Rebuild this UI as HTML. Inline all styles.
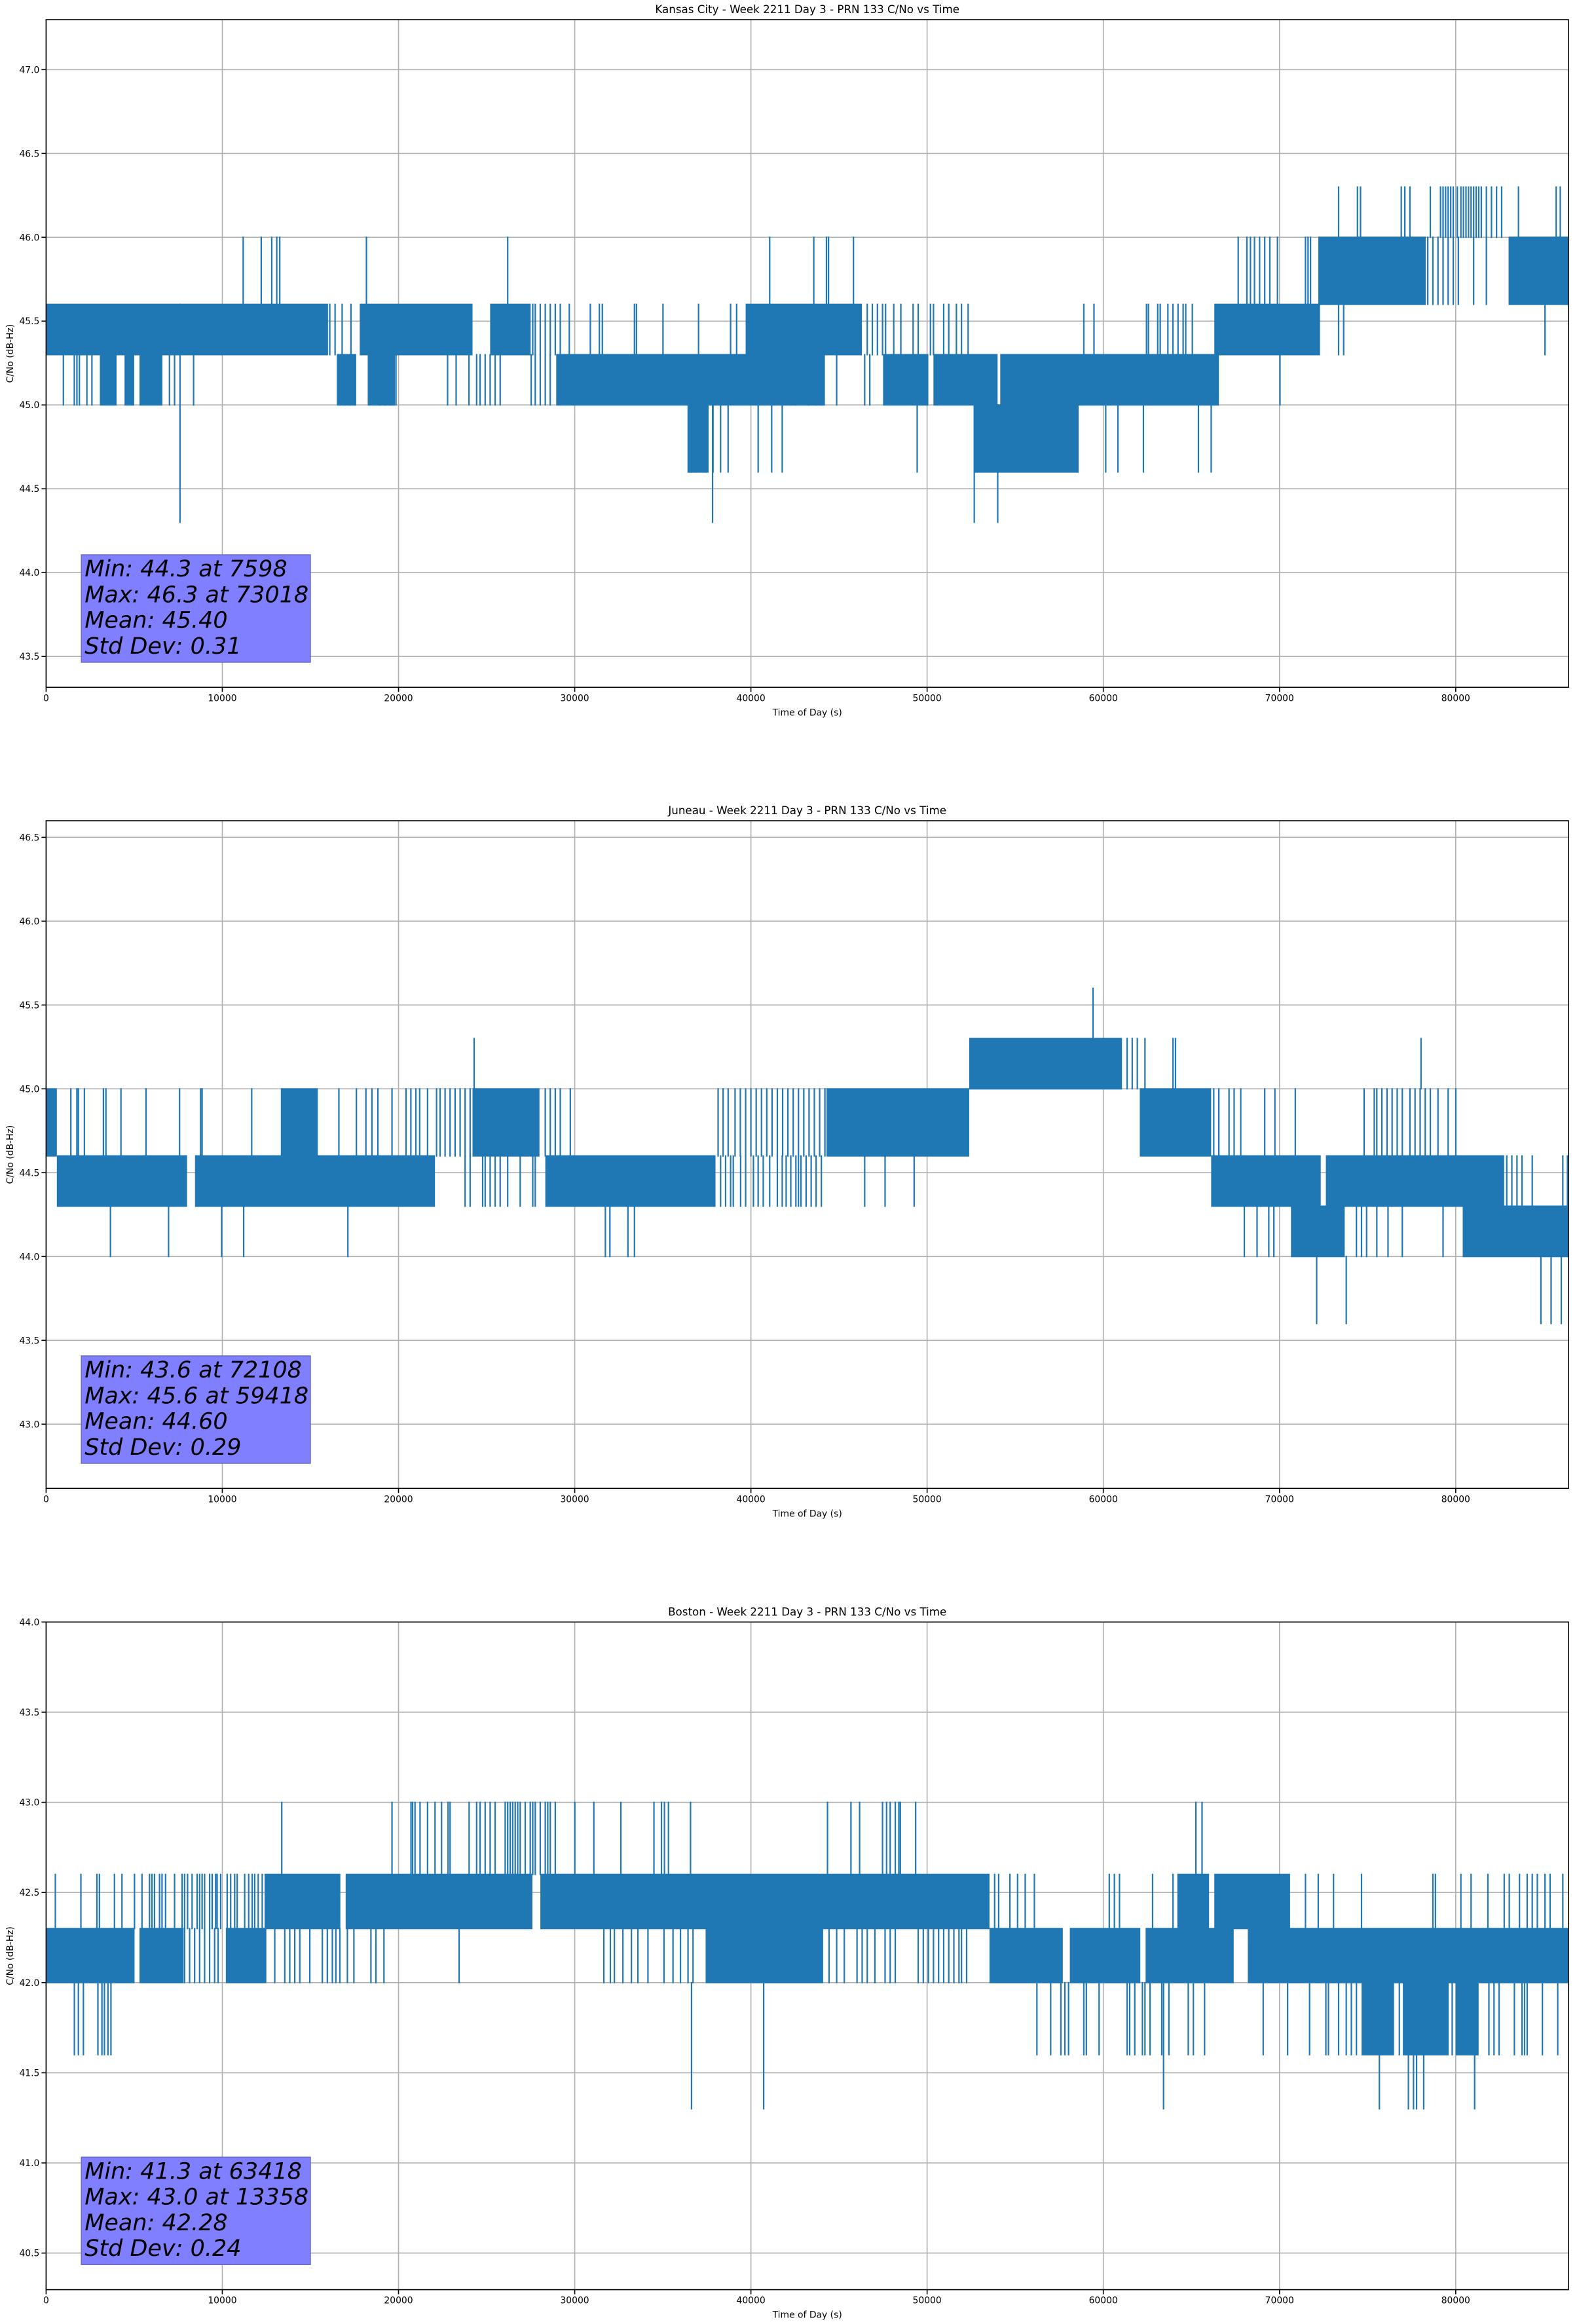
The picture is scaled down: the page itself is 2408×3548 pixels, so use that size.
<!DOCTYPE html>
<html><head><meta charset="utf-8">
<style>
html,body{margin:0;padding:0;background:#fff;}
svg{display:block;font-family:"DejaVu Sans","Liberation Sans",sans-serif;}
</style></head>
<body>
<svg id="fig" width="2408" height="3548" viewBox="0 0 2408 3548" xmlns="http://www.w3.org/2000/svg"></svg>
<script>
// ---------- DATA ----------
const xTicks = [0,10000,20000,30000,40000,50000,60000,70000,80000];
const kcTitle = "Kansas City - Week 2211 Day 3 - PRN 133 C/No vs Time";
const kcYTicks = [43.5,44.0,44.5,45.0,45.5,46.0,46.5,47.0];
const kcStats = ["Min: 44.3 at 7598","Max: 46.3 at 73018","Mean: 45.40","Std Dev: 0.31"];
const kcBands = [
 [0,16000,45.3,45.6],[17800,24200,45.3,45.6],[25200,27500,45.3,45.6],[39700,46300,45.3,45.6],[66300,72300,45.3,45.6],
 [3050,4000,45.0,45.3],[4450,5000,45.0,45.3],[5300,6600,45.0,45.3],[16500,17600,45.0,45.3],[18300,19800,45.0,45.3],
 [28950,44200,45.0,45.3],[47500,50070,45.0,45.3],[50360,54000,45.0,45.3],[54150,66560,45.0,45.3],
 [36400,37600,44.6,45.0],[52680,58600,44.6,45.0],
 [72200,78300,45.6,46.0],[83000,86400,45.6,46.0]
];
const kcLines = [
 [979,45.0,45.3],[1600,45.0,45.3],[1750,45.0,45.3],[1890,45.0,45.3],[2315,45.0,45.3],[2600,45.0,45.3],[7000,45.0,45.3],[7290,45.0,45.3],
 [7598,44.3,45.6],[8370,45.0,45.3],[16672,45.0,45.3],[16956,45.0,45.3],[17241,45.0,45.3],[17525,45.0,45.3],[18293,45.0,45.3],
 [18946,45.0,45.3],[19231,45.0,45.3],[19515,45.0,45.3],[19856,45.0,45.3],[22785,45.0,45.3],[23270,45.0,45.3],[24000,45.0,45.3],
 [24434,45.0,45.3],[24632,45.0,45.3],[24917,45.0,45.3],[25201,45.0,45.3],[25485,45.0,45.3],[25770,45.0,45.3],
 [27530,45.0,45.3],[27760,45.0,45.3],[28044,45.0,45.3],[28329,45.0,45.3],[28610,45.0,45.3],
 [16100,45.3,45.6],[16400,45.3,45.6],[16800,45.3,45.6],[17300,45.3,45.6],
 [27618,45.3,45.6],[27760,45.3,45.6],[28044,45.3,45.6],[28329,45.3,45.6],[28613,45.3,45.6],[28897,45.3,45.6],[29181,45.3,45.6],
 [29693,45.3,45.6],[30887,45.3,45.6],[31399,45.3,45.6],[31569,45.3,45.6],[33389,45.3,45.6],[33503,45.3,45.6],[35010,45.3,45.6],
 [37028,45.3,45.6],[38847,45.3,45.6],[39189,45.3,45.6],
 [11185,45.6,46.0],[12209,45.6,46.0],[12806,45.6,46.0],[13090,45.6,46.0],[13261,45.6,46.0],[18179,45.6,46.0],[26197,45.6,46.0],
 [41066,45.6,46.0],[43568,45.6,46.0],[44289,45.6,46.0],[44404,45.6,46.0],[45821,45.6,46.0],
 [46602,45.3,45.6],[46892,45.3,45.6],[47180,45.3,45.6],[47470,45.3,45.6],[47643,45.3,45.6],[48106,45.3,45.6],[48510,45.3,45.6],
 [49205,45.3,45.6],[49494,45.3,45.6],[50188,45.3,45.6],[50362,45.3,45.6],[50940,45.3,45.6],[51229,45.3,45.6],[51663,45.3,45.6],
 [51952,45.3,45.6],[52328,45.3,45.6],[58893,45.3,45.6],[59471,45.3,45.6],[62450,45.3,45.6],[62560,45.3,45.6],[63087,45.3,45.6],
 [63230,45.3,45.6],[63665,45.3,45.6],[63950,45.3,45.6],[64240,45.3,45.6],[64530,45.3,45.6],[64677,45.3,45.6],[65053,45.3,45.6],
 [67656,45.6,46.0],[68147,45.6,46.0],[68350,45.6,46.0],[68580,45.6,46.0],[68870,45.6,46.0],[69160,45.6,46.0],[69450,45.6,46.0],
 [69883,45.6,46.0],[71473,45.6,46.0],[71620,45.6,46.0],[71760,45.6,46.0],
 [70028,45.0,45.3],[73353,45.3,45.6],[73640,45.3,45.6],[85066,45.3,45.6],
 [78414,45.6,46.0],[78704,45.6,46.0],[78993,45.6,46.0],[79282,45.6,46.0],[79571,45.6,46.0],[79860,45.6,46.0],[80149,45.6,46.0],
 [81017,45.6,46.0],[81740,45.6,46.0],
 [73353,46.0,46.3],[74423,46.0,46.3],[74597,46.0,46.3],[76910,46.0,46.3],[77113,46.0,46.3],[77402,46.0,46.3],[78559,46.0,46.3],
 [79137,46.0,46.3],[79282,46.0,46.3],[79426,46.0,46.3],[79571,46.0,46.3],[79716,46.0,46.3],[79860,46.0,46.3],[80091,46.0,46.3],
 [80294,46.0,46.3],[80438,46.0,46.3],[80583,46.0,46.3],[80728,46.0,46.3],[80872,46.0,46.3],[81017,46.0,46.3],[81162,46.0,46.3],
 [81306,46.0,46.3],[81451,46.0,46.3],[81740,46.0,46.3],[82029,46.0,46.3],[82318,46.0,46.3],[82607,46.0,46.3],[83562,46.0,46.3],
 [85702,46.0,46.3],[85934,46.0,46.3],
 [36573,44.6,45.0],[36860,44.6,45.0],[37426,44.6,45.0],[37850,44.6,45.0],[38279,44.6,45.0],[38705,44.6,45.0],[40411,44.6,45.0],
 [41180,44.6,45.0],[41777,44.6,45.0],[49436,44.6,45.0],[60137,44.6,45.0],[60831,44.6,45.0],[62277,44.6,45.0],[65400,44.6,45.0],
 [66123,44.6,45.0],[37824,44.3,45.0],[52675,44.3,45.0],[54006,44.3,45.0],
 [42264,45.0,45.3],[42550,45.0,45.3],[43276,45.0,45.3],[43710,45.0,45.3],[44000,45.0,45.3],[44867,45.0,45.3],[46457,45.0,45.3],[46747,45.0,45.3]
];

const juTitle = "Juneau - Week 2211 Day 3 - PRN 133 C/No vs Time";
const juYTicks = [43.0,43.5,44.0,44.5,45.0,45.5,46.0,46.5];
const juStats = ["Min: 43.6 at 72108","Max: 45.6 at 59418","Mean: 44.60","Std Dev: 0.29"];
const juBands = [
 [610,8000,44.3,44.6],[8450,22070,44.3,44.6],[28330,37990,44.3,44.6],[66120,72340,44.3,44.6],[72630,82750,44.3,44.6],
 [0,610,44.6,45.0],[13320,15420,44.6,45.0],[24200,28000,44.6,45.0],[44290,52390,44.6,45.0],[62070,66120,44.6,45.0],
 [52390,61060,45.0,45.3],
 [70650,73700,44.0,44.3],[80450,86400,44.0,44.3]
];
const juLines = [
 [1405,44.6,45.0],[1746,44.6,45.0],[1832,44.6,45.0],[2173,44.6,45.0],[3253,44.6,45.0],[3395,44.6,45.0],[4248,44.6,45.0],[5670,44.6,45.0],
 [7574,44.6,45.0],[8768,44.6,45.0],[8854,44.6,45.0],[11668,44.6,45.0],[16615,44.6,45.0],[17610,44.6,45.0],[18150,44.6,45.0],
 [18491,44.6,45.0],[18832,44.6,45.0],[19630,44.6,45.0],[20425,44.6,45.0],[20700,44.6,45.0],[20985,44.6,45.0],[21200,44.6,45.0],
 [21647,44.6,45.0],[22159,44.6,45.0],[22359,44.6,45.0],[22643,44.6,45.0],[22927,44.6,45.0],[23211,44.6,45.0],[23496,44.6,45.0],
 [23780,44.6,45.0],[24064,44.6,45.0],[28329,44.6,45.0],[28613,44.6,45.0],[28897,44.6,45.0],[29181,44.6,45.0],[29750,44.6,45.0],
 [38138,44.6,45.0],[38422,44.6,45.0],[38707,44.6,45.0],[39100,44.6,45.0],[39400,44.6,45.0],[39700,44.6,45.0],[40000,44.6,45.0],
 [40300,44.6,45.0],[40600,44.6,45.0],[40900,44.6,45.0],[41200,44.6,45.0],[41500,44.6,45.0],[41800,44.6,45.0],[42100,44.6,45.0],
 [42400,44.6,45.0],[42700,44.6,45.0],[43000,44.6,45.0],[43300,44.6,45.0],[43600,44.6,45.0],[43900,44.6,45.0],[44200,44.6,45.0],
 [66268,44.6,45.0],[66557,44.6,45.0],[67135,44.6,45.0],[67424,44.6,45.0],[67800,44.6,45.0],[69160,44.6,45.0],[69738,44.6,45.0],
 [70895,44.6,45.0],[74800,44.6,45.0],[75378,44.6,45.0],[75522,44.6,45.0],[75811,44.6,45.0],[76100,44.6,45.0],[76390,44.6,45.0],
 [76679,44.6,45.0],[76968,44.6,45.0],[77402,44.6,45.0],[77691,44.6,45.0],[77980,44.6,45.0],[78270,44.6,45.0],[78559,44.6,45.0],
 [78993,44.6,45.0],[79571,44.6,45.0],[80005,44.6,45.0],
 [24290,45.0,45.3],[78030,45.0,45.3],[61351,45.0,45.3],[61640,45.0,45.3],[61930,45.0,45.3],[62364,45.0,45.3],[63954,45.0,45.3],[64098,45.0,45.3],
 [59418,45.3,45.6],
 [23780,44.3,44.6],[24064,44.3,44.6],[24775,44.3,44.6],[24917,44.3,44.6],[25201,44.3,44.6],[25485,44.3,44.6],[25770,44.3,44.6],
 [26196,44.3,44.6],[26907,44.3,44.6],[27618,44.3,44.6],[27760,44.3,44.6],
 [38279,44.3,44.6],[38563,44.3,44.6],[38848,44.3,44.6],[39000,44.3,44.6],[39416,44.3,44.6],[39700,44.3,44.6],[40143,44.3,44.6],
 [40411,44.3,44.6],[40700,44.3,44.6],[41066,44.3,44.6],[41500,44.3,44.6],[41777,44.3,44.6],[42000,44.3,44.6],[42264,44.3,44.6],
 [42553,44.3,44.6],[42700,44.3,44.6],[42842,44.3,44.6],[43131,44.3,44.6],[43420,44.3,44.6],[43700,44.3,44.6],[43999,44.3,44.6],
 [46457,44.3,44.6],[47614,44.3,44.6],[49263,44.3,44.6],[82897,44.3,44.6],[83186,44.3,44.6],[83476,44.3,44.6],[83765,44.3,44.6],
 [84344,44.3,44.6],[86078,44.3,44.6],[86340,44.3,44.6],
 [3651,44.0,44.3],[6949,44.0,44.3],[9963,44.0,44.3],[11213,44.0,44.3],[17127,44.0,44.3],[31740,44.0,44.3],[31997,44.0,44.3],
 [33020,44.0,44.3],[33390,44.0,44.3],[68003,44.0,44.3],[68726,44.0,44.3],[69391,44.0,44.3],[69680,44.0,44.3],[74366,44.0,44.3],
 [74655,44.0,44.3],[74944,44.0,44.3],[75522,44.0,44.3],[76158,44.0,44.3],[76968,44.0,44.3],[79282,44.0,44.3],[80438,44.0,44.3],
 [72108,43.6,44.0],[73787,43.6,44.0],[84835,43.6,44.0],[85413,43.6,44.0],[85991,43.6,44.0]
];

const boTitle = "Boston - Week 2211 Day 3 - PRN 133 C/No vs Time";
const boYTicks = [40.5,41.0,41.5,42.0,42.5,43.0,43.5,44.0];
const boStats = ["Min: 41.3 at 63418","Max: 43.0 at 13358","Mean: 42.28","Std Dev: 0.24"];
const boBands = [
 [0,5020,42.0,42.3],[5300,7800,42.0,42.3],[10200,12500,42.0,42.3],[37430,44100,42.0,42.3],
 [53540,57700,42.0,42.3],[58100,62100,42.0,42.3],[62400,67400,42.0,42.3],[68200,86400,42.0,42.3],
 [12400,16700,42.3,42.6],[17000,27600,42.3,42.6],[28050,53540,42.3,42.6],[64200,66000,42.3,42.6],[66300,70600,42.3,42.6],
 [74655,76500,41.6,42.0],[77000,79600,41.6,42.0],[80000,81300,41.6,42.0]
];
const boLines = [
 [13374,42.6,43.0],[19630,42.6,43.0],[20710,42.6,43.0],[20800,42.6,43.0],[20937,42.6,43.0],[21222,42.6,43.0],[21647,42.6,43.0],
 [22073,42.6,43.0],[22443,42.6,43.0],[22813,42.6,43.0],[22927,42.6,43.0],[24007,42.6,43.0],[24434,42.6,43.0],[24632,42.6,43.0],
 [24917,42.6,43.0],[25201,42.6,43.0],[25485,42.6,43.0],[26055,42.6,43.0],[26197,42.6,43.0],[26339,42.6,43.0],[26480,42.6,43.0],
 [26623,42.6,43.0],[26765,42.6,43.0],[26907,42.6,43.0],[27192,42.6,43.0],[27476,42.6,43.0],[27618,42.6,43.0],[27760,42.6,43.0],
 [28044,42.6,43.0],[28329,42.6,43.0],[28471,42.6,43.0],[28613,42.6,43.0],[28897,42.6,43.0],[30006,42.6,43.0],[31086,42.6,43.0],
 [32621,42.6,43.0],[34497,42.6,43.0],[34924,42.6,43.0],[35094,42.6,43.0],[35322,42.6,43.0],[36573,42.6,43.0],
 [44346,42.6,43.0],[45677,42.6,43.0],[46168,42.6,43.0],[47470,42.6,43.0],[47700,42.6,43.0],[47904,42.6,43.0],[48193,42.6,43.0],
 [48395,42.6,43.0],[48482,42.6,43.0],[49350,42.6,43.0],[65256,42.6,43.0],[65603,42.6,43.0],
 [524,42.3,42.6],[1974,42.3,42.6],[2883,42.3,42.6],[3026,42.3,42.6],[3879,42.3,42.6],[4305,42.3,42.6],[5016,42.3,42.6],
 [5442,42.3,42.6],[5869,42.3,42.6],[6011,42.3,42.6],[6153,42.3,42.6],[6438,42.3,42.6],[6580,42.3,42.6],[6780,42.3,42.6],
 [7290,42.3,42.6],[7717,42.3,42.6],[7859,42.3,42.6],[8029,42.3,42.6],[8285,42.3,42.6],[8570,42.3,42.6],[8712,42.3,42.6],
 [8854,42.3,42.6],[8996,42.3,42.6],[9280,42.3,42.6],[9422,42.3,42.6],[9621,42.3,42.6],[9706,42.3,42.6],[9906,42.3,42.6],
 [10275,42.3,42.6],[10474,42.3,42.6],[10702,42.3,42.6],[10844,42.3,42.6],[11270,42.3,42.6],[11498,42.3,42.6],[11697,42.3,42.6],
 [11839,42.3,42.6],[12038,42.3,42.6],[12265,42.3,42.6],
 [53832,42.3,42.6],[54060,42.3,42.6],[54700,42.3,42.6],[55134,42.3,42.6],[55568,42.3,42.6],[56088,42.3,42.6],[60339,42.3,42.6],
 [60628,42.3,42.6],[60917,42.3,42.6],[62797,42.3,42.6],[63954,42.3,42.6],[71473,42.3,42.6],[72197,42.3,42.6],[73065,42.3,42.6],
 [74655,42.3,42.6],[78704,42.3,42.6],[78849,42.3,42.6],[80293,42.3,42.6],[80872,42.3,42.6],[81826,42.3,42.6],[82751,42.3,42.6],
 [83040,42.3,42.6],[83618,42.3,42.6],[84054,42.3,42.6],[84343,42.3,42.6],[84632,42.3,42.6],[85066,42.3,42.6],[85355,42.3,42.6],
 [86078,42.3,42.6],
 [7859,42.0,42.3],[8143,42.0,42.3],[8428,42.0,42.3],[8712,42.0,42.3],[8996,42.0,42.3],[9280,42.0,42.3],[9564,42.0,42.3],
 [9763,42.0,42.3],[12976,42.0,42.3],[13545,42.0,42.3],[13829,42.0,42.3],[14113,42.0,42.3],[14397,42.0,42.3],[14966,42.0,42.3],
 [15677,42.0,42.3],[15961,42.0,42.3],[16245,42.0,42.3],[16444,42.0,42.3],[16672,42.0,42.3],[17099,42.0,42.3],[17468,42.0,42.3],
 [18435,42.0,42.3],[18719,42.0,42.3],[19174,42.0,42.3],[23439,42.0,42.3],[31655,42.0,42.3],[32024,42.0,42.3],[32252,42.0,42.3],
 [32735,42.0,42.3],[33219,42.0,42.3],[33588,42.0,42.3],[34157,42.0,42.3],[35066,42.0,42.3],[35578,42.0,42.3],[36004,42.0,42.3],
 [36431,42.0,42.3],[36715,42.0,42.3],
 [44433,42.0,42.3],[44867,42.0,42.3],[45300,42.0,42.3],[46023,42.0,42.3],[46313,42.0,42.3],[46602,42.0,42.3],[47036,42.0,42.3],
 [47614,42.0,42.3],[47904,42.0,42.3],[48193,42.0,42.3],[49494,42.0,42.3],[49783,42.0,42.3],[50073,42.0,42.3],[50362,42.0,42.3],
 [50651,42.0,42.3],[50940,42.0,42.3],[51229,42.0,42.3],[51519,42.0,42.3],[51808,42.0,42.3],[51952,42.0,42.3],[52242,42.0,42.3],
 [1604,41.6,42.0],[1832,41.6,42.0],[2116,41.6,42.0],[2940,41.6,42.0],[3168,41.6,42.0],[3310,41.6,42.0],[3509,41.6,42.0],
 [3680,41.6,42.0],[36630,41.3,42.0],[40725,41.3,42.0],
 [56232,41.6,42.0],[57013,41.6,42.0],[57591,41.6,42.0],[57822,41.6,42.0],[58026,41.6,42.0],[58893,41.6,42.0],[59038,41.6,42.0],
 [59761,41.6,42.0],[61351,41.6,42.0],[61496,41.6,42.0],[61785,41.6,42.0],[62219,41.6,42.0],[62364,41.6,42.0],[62653,41.6,42.0],
 [63318,41.6,42.0],[63723,41.6,42.0],[64822,41.6,42.0],[65111,41.6,42.0],[65747,41.6,42.0],[69073,41.6,42.0],[70461,41.6,42.0],
 [71705,41.6,42.0],[72631,41.6,42.0],[72775,41.6,42.0],[73353,41.6,42.0],[73787,41.6,42.0],[74077,41.6,42.0],[74366,41.6,42.0],
 [76800,41.6,42.0],[79800,41.6,42.0],[81884,41.6,42.0],[82173,41.6,42.0],[82463,41.6,42.0],[83330,41.6,42.0],[83763,41.6,42.0],
 [83908,41.6,42.0],[84054,41.6,42.0],[84921,41.6,42.0],[85789,41.6,42.0],
 [63418,41.3,42.0],[75667,41.3,41.6],[77315,41.3,41.6],[77604,41.3,41.6],[77778,41.3,41.6],[78183,41.3,41.6],[81074,41.3,41.6]
];

// ---------- RENDER ----------
const NS = "http://www.w3.org/2000/svg";
const svg = document.getElementById('fig');
const AX_L = 70.4, AX_R = 2395, AX_H = 1019.3, XMAX = 86400;
const BLUE = "#1f77b4";
function el(tag, attrs, parent){ const e=document.createElementNS(NS,tag); for(const k in attrs) e.setAttribute(k,attrs[k]); (parent||svg).appendChild(e); return e; }
function xs(t){ return AX_L + (t/XMAX)*(AX_R-AX_L); }

function drawChart(key, top, ymin, ymax, title, yTicks, bands, lines, stats){
  const g = el('g',{});
  
  
  const bottom = top + AX_H;
  const ys = v => top + (ymax - v)/(ymax-ymin)*AX_H;
  // grid
  const grid = el('g',{},g);
  
  
  xTicks.forEach(t=>{ const l=el('line',{x1:xs(t),x2:xs(t),y1:top,y2:bottom,stroke:'#b0b0b0','stroke-width':1.6},grid);
      });
  yTicks.forEach(v=>{ const l=el('line',{x1:AX_L,x2:AX_R,y1:ys(v),y2:ys(v),stroke:'#b0b0b0','stroke-width':1.6},grid);
      });
  // series
  const ser = el('g',{},g);
  
  
  bands.forEach(b=>{ const r=el('rect',{x:xs(b[0]),y:ys(b[3])-1,width:Math.max(2,xs(b[1])-xs(b[0])),height:ys(b[2])-ys(b[3])+2,fill:BLUE},ser);
      });
  lines.forEach(s=>{ const l=el('line',{x1:xs(s[0]),x2:xs(s[0]),y1:ys(s[2])-1,y2:ys(s[1])+1,stroke:BLUE,'stroke-width':2.2},ser);
      });
  // stats box
  const bx = el('g',{},g);
  
  
  el('rect',{x:xs(2000),y:top+817,width:xs(15000)-xs(2000),height:164,fill:'#7f7fff',stroke:'#6a6ac0','stroke-width':1.5},bx);
  stats.forEach((s,i)=>{ const t=el('text',{x:xs(2000)+5,y:top+817+33+i*39.3,'font-size':35,'font-style':'italic',fill:'#000'},bx);
    t.textContent=s;   });
  // spines
  const sp = el('rect',{x:AX_L,y:top,width:AX_R-AX_L,height:AX_H,fill:'none',stroke:'#000','stroke-width':1.6},g);
   
  // x ticks
  xTicks.forEach(t=>{ el('line',{x1:xs(t),x2:xs(t),y1:bottom,y2:bottom+7,stroke:'#000','stroke-width':1.6},g);
    const tx=el('text',{x:xs(t),y:bottom+21,'font-size':13.9,'text-anchor':'middle',fill:'#000'},g);
    tx.textContent=String(t);   });
  yTicks.forEach(v=>{ el('line',{x1:AX_L-7,x2:AX_L,y1:ys(v),y2:ys(v),stroke:'#000','stroke-width':1.6},g);
    const tx=el('text',{x:AX_L-10,y:ys(v)+5,'font-size':13.9,'text-anchor':'end',fill:'#000'},g);
    tx.textContent=v.toFixed(1);   });
  const ti=el('text',{x:(AX_L+AX_R)/2,y:top-10,'font-size':16.7,'text-anchor':'middle',fill:'#000'},g);
  ti.textContent=title;  
  const xl=el('text',{x:(AX_L+AX_R)/2,y:bottom+43,'font-size':13.9,'text-anchor':'middle',fill:'#000'},g);
  xl.textContent='Time of Day (s)';  
  const yl=el('text',{x:0,y:0,'font-size':13.9,'text-anchor':'middle',fill:'#000',transform:`translate(20,${top+AX_H/2}) rotate(-90)`},g);
  yl.textContent='C/No (dB-Hz)';  
}
drawChart('kansas-city', 30, 43.316, 47.298, kcTitle, kcYTicks, kcBands, kcLines, kcStats);
drawChart('juneau', 1253, 42.617, 46.599, juTitle, juYTicks, juBands, juLines, juStats);
drawChart('boston', 2476.3, 40.297, 44.0, boTitle, boYTicks, boBands, boLines, boStats);
</script>
</body></html>
